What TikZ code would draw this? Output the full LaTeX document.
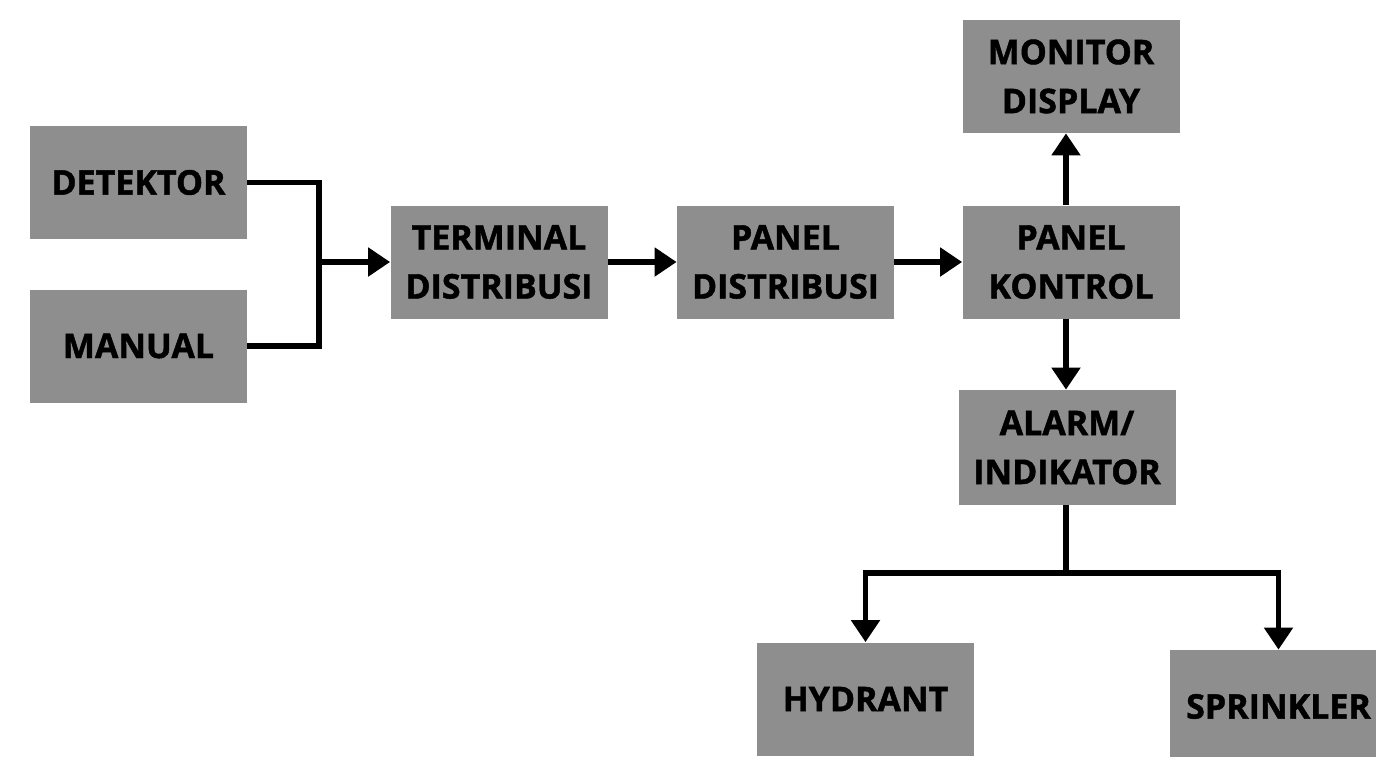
\documentclass[tikz,border=0pt]{standalone}
\usepackage{fontspec}
\setmainfont{Open Sans}[BoldFeatures={FakeBold=1.3}]
\usepackage{tikz}
\usetikzlibrary{arrows.meta}
\definecolor{boxgray}{HTML}{8E8E8E}

\begin{document}
\begin{tikzpicture}[x=0.5pt,y=-0.5pt,
    box/.style={fill=boxgray,minimum width=108.5pt,minimum height=56.5pt,inner sep=0pt,
      align=center,font=\fontsize{17}{24.5}\selectfont\bfseries},
    wire/.style={line width=2.6pt,black},
    flow/.style={wire,-{Triangle[length=11pt,width=14pt]}}]
  \useasboundingbox (0,0) rectangle (1376,756);
  % sources
  \node[box] (det) at (138.5,182.5) {DETEKTOR};
  \node[box] (man) at (138.5,346) {MANUAL};
  % main chain
  \node[box] (term) at (499,262) {TERMINAL\\DISTRIBUSI};
  \node[box] (pdist) at (785.5,262) {PANEL\\DISTRIBUSI};
  \node[box] (pkon) at (1071,262) {PANEL\\KONTROL};
  \node[box] (mon) at (1071,76.5) {MONITOR\\DISPLAY};
  \node[box,minimum height=57.5pt] (alarm) at (1067,447.5) {ALARM/\\INDIKATOR};
  % outputs
  \node[box] (hyd) at (865.5,699) {HYDRANT};
  \node[box] (spr) at (1278.5,706.5) {SPRINKLER};
  \coordinate (join) at (319,262);
  \coordinate (split) at (1066,573);
  \draw[wire] (det.east) -| (join);
  \draw[wire] (man.east) -| (join);
  \draw[flow] (join) -- (term.west);
  \draw[flow] (term) -- (pdist);
  \draw[flow] (pdist) -- (pkon);
  \draw[flow] (pkon.north -| split) -- (mon.south -| split);
  \draw[flow] (pkon.south -| split) -- (alarm.north -| split);
  \draw[flow] (alarm.south -| split) -- (split) -| (hyd.north);
  \draw[flow] (split) -| (spr.north);
\end{tikzpicture}
\end{document}
